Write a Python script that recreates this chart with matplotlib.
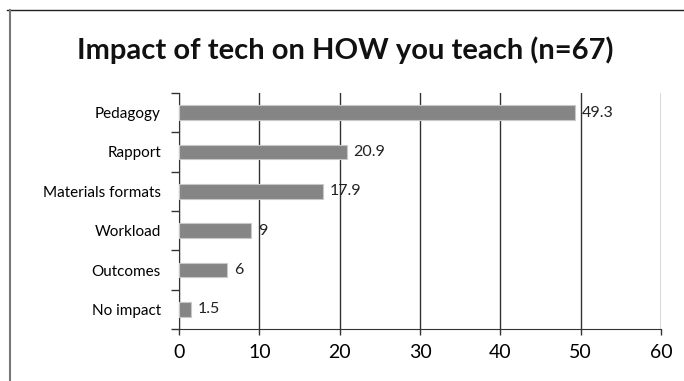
import matplotlib
matplotlib.use("Agg")
import matplotlib.pyplot as plt
from matplotlib.lines import Line2D

categories = ["Pedagogy", "Rapport", "Materials formats", "Workload", "Outcomes", "No impact"]
values = [49.3, 20.9, 17.9, 9, 6, 1.5]
value_labels = ["49.3", "20.9", "17.9", "9", "6", "1.5"]
xticks = [0, 10, 20, 30, 40, 50, 60]
title = "Impact of tech on HOW you teach (n=67)"

plt.rcParams['font.family'] = ['Lato', 'DejaVu Sans']

fig = plt.figure(figsize=(6.84, 3.81), dpi=100)
ax = fig.add_axes([179/684, 1 - 329/381, (661 - 179)/684, (329 - 93)/381])

n = len(categories)
ypos = list(range(n))
ax.barh(ypos, values, height=0.38, color="#858585", edgecolor="#c8c8c8", linewidth=0.8, zorder=3)
for y, v, lab in zip(ypos, values, value_labels):
    ax.text(v + 0.8, y, lab, va="center", ha="left", fontsize=11.5, color="#222222", zorder=4)

ax.set_ylim(n - 0.5, -0.5)
ax.set_xlim(0, 60)
ax.set_xticks(xticks)
ax.set_xticklabels([str(t) for t in xticks], fontsize=14)
ax.tick_params(axis="x", length=4, width=1, color="#333333", pad=7)
ax.set_yticks(ypos)
ax.set_yticklabels(categories, fontsize=11)
ax.tick_params(axis="y", length=0, pad=13)
# minor ticks at category boundaries on y axis
ax.set_yticks([i - 0.5 for i in range(n + 1)], minor=True)
ax.tick_params(axis="y", which="minor", length=6, width=1, color="#333333")

ax.grid(axis="x", color="#333333", linewidth=1, zorder=0)
for s in ["top", "right"]:
    ax.spines[s].set_visible(False)
ax.spines["left"].set_color("#333333")
ax.spines["bottom"].set_color("#333333")

fig.text(345/684, 1 - 50/381, title, ha="center", va="center", fontsize=21, fontweight="bold", color="#111111")

# outer border (top and left)
fig.add_artist(Line2D([7/684, 1], [1 - 10/381, 1 - 10/381], transform=fig.transFigure, color="#222222", linewidth=1))
fig.add_artist(Line2D([10/684, 10/684], [0, 1 - 10/381], transform=fig.transFigure, color="#777777", linewidth=1.5))

fig.savefig("out.png", dpi=100)
